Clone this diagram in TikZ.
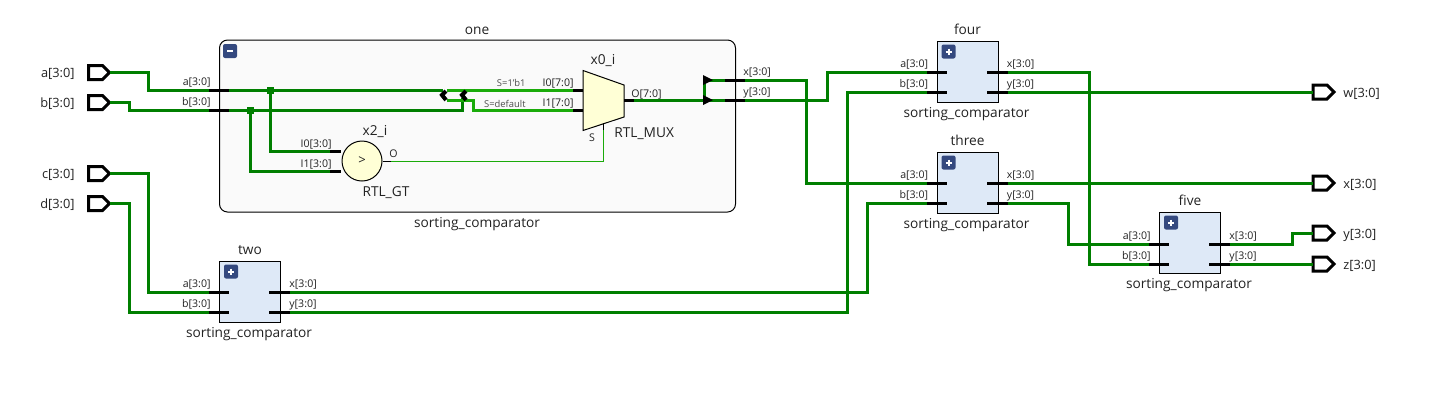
\documentclass[tikz,border=0pt]{standalone}
\usepackage{fontspec}
\setmainfont{Open Sans}
\usetikzlibrary{shapes.symbols}

\definecolor{wiregreen}{RGB}{0,127,0}
\definecolor{litegreen}{RGB}{26,171,10}
\definecolor{boxblue}{RGB}{222,233,247}
\definecolor{iconblue}{RGB}{52,73,127}
\definecolor{rtlyellow}{RGB}{255,255,214}
\definecolor{hierfill}{RGB}{250,250,250}
\definecolor{inktext}{RGB}{34,34,34}

\tikzset{
	wire/.style={wiregreen, line width=1.5pt},
	litewire/.style={litegreen, line width=1.5pt},
	thinwire/.style={litegreen, line width=0.5pt},
	stub/.style={black, line width=1.5pt},
	thinstub/.style={black, line width=0.5pt},
	ioport/.style={shape=signal, signal to=east, draw=black, fill=white, line width=1.5pt,
		minimum width=10.5pt, minimum height=7pt, inner sep=0pt, outer sep=0pt},
	modbox/.style={draw=black, fill=boxblue, line width=0.5pt, minimum width=30.5pt, minimum height=30.5pt, inner sep=0pt},
	expander/.style={fill=iconblue, rounded corners=1pt, minimum size=7pt, inner sep=0pt},
	nametext/.style={font=\fontsize{6.85}{8}\selectfont, text=inktext, inner sep=0pt, anchor=base},
	pintext/.style={font=\fontsize{5.3}{6}\selectfont, text=inktext, inner sep=0pt},
	seltext/.style={font=\fontsize{4.7}{5}\selectfont, text=inktext!80, inner sep=0pt, anchor=base east},
	iotext/.style={font=\fontsize{6.4}{7}\selectfont, text=inktext, inner sep=0pt},
	dot/.style={fill=wiregreen, minimum size=3.5pt, inner sep=0pt},
	chevron/.style={black, line width=2pt}
}

\begin{document}
\begin{tikzpicture}[x=0.5pt,y=-0.5pt]
	\useasboundingbox (0,0) rectangle (1449,409);

	% Hierarchy block one
	\node[draw=black, fill=hierfill, line width=0.5pt, rounded corners=4pt, minimum width=258pt, minimum height=86pt, inner sep=0pt] (one) at (477.5,126) {};
	\node[nametext] (onename) at (477,34) {one};
	\node[nametext] (onetype) at (477,227) {sorting\_comparator};
	\node[expander] (oneicon) at (230,51) {};
	\draw[white, line width=1pt] (227,51) -- (233,51);

	% Input ports
	\foreach \pname/\py in {a/72.5,b/102.5,c/173.5,d/203.5} {
		\node[ioport] (in\pname) at (95.5,\py) {};
		\node[iotext, anchor=base east] (in\pname text) at (75,\py+5) {\pname[3:0]};
	}

	% Output ports
	\foreach \pname/\py in {w/92,x/183,y/233,z/264} {
		\node[ioport] (out\pname) at (1320,\py) {};
		\node[iotext, anchor=base west] (out\pname text) at (1343,\py+5) {\pname[3:0]};
	}

	% Comparator blocks
	\foreach \bname/\bx/\by/\off in {two/250/291.5/0.5,four/967.5/71.5/0.5,three/967.5/182.5/0.5,five/1190/242.5/1.5} {
		\node[modbox] (\bname) at (\bx,\by) {};
		\node[nametext] (\bname name) at (\bx,\by-37) {\bname};
		\node[nametext] (\bname type) at (\bx-1,\by+45.5) {sorting\_comparator};
		\node[expander] (\bname icon) at (\bx-19,\by-20) {};
		\draw[white, line width=1pt] (\bx-22,\by-20) -- (\bx-16,\by-20) (\bx-19,\by-23) -- (\bx-19,\by-17);
		\coordinate (\bname a) at (\bx-41,\by+\off);
		\coordinate (\bname b) at (\bx-41,\by+\off+20);
		\coordinate (\bname x) at (\bx+40,\by+\off);
		\coordinate (\bname y) at (\bx+40,\by+\off+20);
		\node[pintext, anchor=base east] (\bname atext) at (\bx-39,\by+\off-4.5) {a[3:0]};
		\node[pintext, anchor=base east] (\bname btext) at (\bx-39,\by+\off+15.5) {b[3:0]};
		\node[pintext, anchor=base west] (\bname xtext) at (\bx+39,\by+\off-4.5) {x[3:0]};
		\node[pintext, anchor=base west] (\bname ytext) at (\bx+39,\by+\off+15.5) {y[3:0]};
		\draw[stub] (\bname a) -- ++(20,0);
		\draw[stub] (\bname b) -- ++(20,0);
		\draw[stub] (\bname x) -- ++(-21,0);
		\draw[stub] (\bname y) -- ++(-21,0);
	}

	% Pins of block one
	\coordinate (onea) at (209,90);
	\coordinate (oneb) at (209,110);
	\coordinate (onex) at (745,80);
	\coordinate (oney) at (745,100);
	\node[pintext, anchor=base east] (oneatext) at (211,85) {a[3:0]};
	\node[pintext, anchor=base east] (onebtext) at (211,105) {b[3:0]};
	\node[pintext, anchor=base west] (onextext) at (743,75) {x[3:0]};
	\node[pintext, anchor=base west] (oneytext) at (743,95) {y[3:0]};

	% Comparator x2_i
	\node[draw=black, fill=rtlyellow, circle, line width=0.5pt, minimum size=20pt, inner sep=0pt, font=\fontsize{6.5}{7}\selectfont, text=inktext] (gt) at (362,161) {>};
	\node[nametext] (gtname) at (375,135) {x2\_i};
	\node[nametext] (gttype) at (386,196) {RTL\_GT};
	\node[pintext, anchor=base east] (gtizero) at (332,147) {I0[3:0]};
	\node[pintext, anchor=base east] (gtione) at (332,167) {I1[3:0]};
	\node[pintext, anchor=base west] (gto) at (389,157) {O};
	\coordinate (gta) at (330,151);
	\coordinate (gtb) at (330,171);
	\coordinate (gtout) at (391,161);

	% Mux x0_i
	\draw[black, fill=rtlyellow, line width=0.5pt] (583,70.5) -- (624,85) -- (624,117) -- (583,130.5) -- cycle;
	\node[nametext] (muxname) at (603,64) {x0\_i};
	\node[nametext, anchor=base west] (muxtype) at (614,137) {RTL\_MUX};
	\node[pintext, anchor=base east] (muxizero) at (574,86) {I0[7:0]};
	\node[pintext, anchor=base east] (muxione) at (574,106) {I1[7:0]};
	\node[pintext, anchor=base west] (muxo) at (631,97) {O[7:0]};
	\node[pintext, anchor=base] (muxs) at (592,141) {S};
	\node[seltext] (muxselone) at (526,86) {S=1'b1};
	\node[seltext] (muxseldef) at (526,107) {S=default};
	\coordinate (muxa) at (573,90);
	\coordinate (muxb) at (573,110);
	\coordinate (muxout) at (634,100);
	\coordinate (muxsel) at (603.5,130);

	% Wires inside one
	\draw[wire] (onea) -- (443,90);
	\draw[wire] (oneb) -- (462,110) -- (462,98);
	\draw[wire] (270,90) -- (270,151) -- (gta);
	\draw[wire] (250,110) -- (250,171) -- (gtb);
	\draw[litewire] (447,90) -- (muxa);
	\draw[litewire] (447,100) -- (473,100) -- (473,110) -- (muxb);
	\draw[thinwire] (gtout) -- (603.5,161) -- (muxsel);
	\draw[thinstub] (gt.east) -- (gtout);
	\draw[thinstub] (603.5,123) -- (muxsel);
	\node[dot] (joina) at (270,90) {};
	\node[dot] (joinb) at (250,110) {};
	\draw[chevron] (446,91) -- (442,95) -- (446,100);
	\draw[chevron] (466,91) -- (462,95) -- (466,100);

	% Stubs inside one
	\draw[stub] (onea) -- ++(20,0);
	\draw[stub] (oneb) -- ++(20,0);
	\draw[stub] (gta) -- ++(11,0);
	\draw[stub] (gtb) -- ++(11,0);
	\draw[stub] (muxa) -- ++(10,0);
	\draw[stub] (muxb) -- ++(10,0);
	\draw[stub] (muxout) -- ++(-10,0);

	% Output fan of one
	\draw[wire] (muxout) -- (704,100);
	\draw[wire] (704,80) -- (704,100);
	\draw[wire] (704,80) -- (725,80);
	\draw[wire] (704,100) -- (725,100);
	\fill[black] (703,75) -- (713,80) -- (703,85) -- cycle;
	\fill[black] (703,95) -- (713,100) -- (703,105) -- cycle;
	\draw[stub] (onex) -- ++(-20,0);
	\draw[stub] (oney) -- ++(-20,0);

	% Top level wires
	\draw[wire] (ina.east) -- (148,72.5) -- (148,90) -- (onea);
	\draw[wire] (inb.east) -- (129,102.5) -- (129,110) -- (oneb);
	\draw[wire] (inc.east) -- (148,173.5) -- (148,292) -- (twoa);
	\draw[wire] (ind.east) -- (129,203.5) -- (129,312) -- (twob);
	\draw[wire] (onex) -- (806,80) -- (806,183) -- (threea);
	\draw[wire] (oney) -- (827,100) -- (827,72) -- (foura);
	\draw[wire] (twox) -- (867,292) -- (867,203) -- (threeb);
	\draw[wire] (twoy) -- (847,312) -- (847,92) -- (fourb);
	\draw[wire] (foury) -- (outw.west);
	\draw[wire] (fourx) -- (1089,72) -- (1089,264) -- (fiveb);
	\draw[wire] (threex) -- (outx.west);
	\draw[wire] (threey) -- (1068,203) -- (1068,244) -- (fivea);
	\draw[wire] (fivex) -- (1292,244) -- (1292,233) -- (outy.west);
	\draw[wire] (fivey) -- (outz.west);

\end{tikzpicture}
\end{document}
